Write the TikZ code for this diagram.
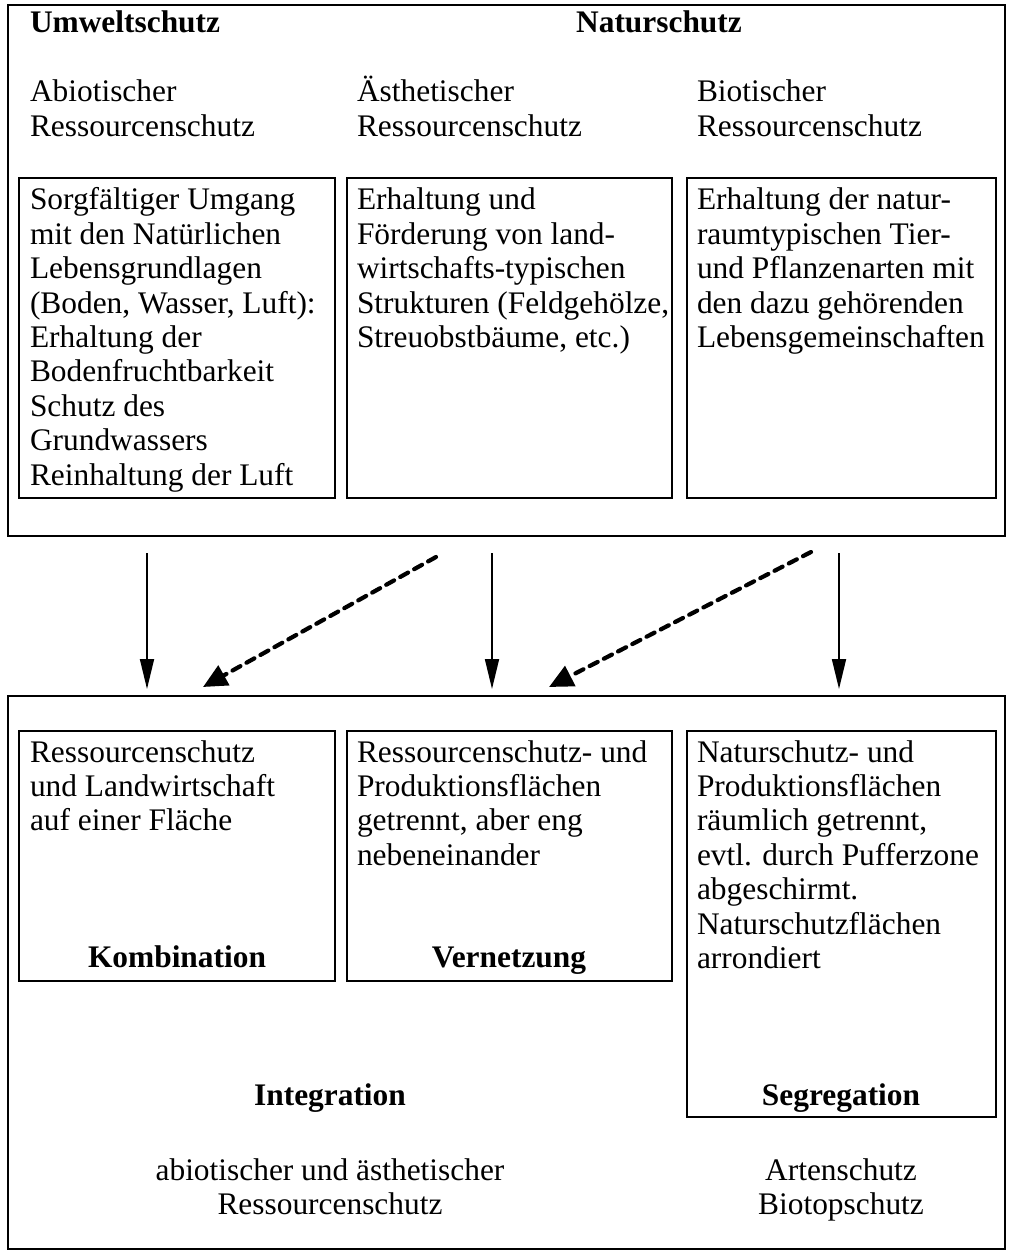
\documentclass[tikz,border=0pt]{standalone}
\usepackage{fontspec}
\setmainfont{Liberation Serif}
\usetikzlibrary{arrows.meta}
\newcommand\ml[2][l]{\begin{tabular}[t]{@{}#1@{}}#2\end{tabular}}
\begin{document}
\begin{tikzpicture}[x=1pt,y=-1pt,
  every node/.style={font=\fontsize{31.4}{34.4}\selectfont, inner sep=0pt, outer sep=0pt},
  frame/.style={draw, line width=2.9pt, rectangle, anchor=north west},
  ltxt/.style={anchor=base west},
  ctxt/.style={anchor=base},
  head/.style={anchor=base, font=\fontsize{31.4}{34.4}\selectfont\bfseries},
  varrow/.style={line width=1.8pt, -{Triangle[length=30pt,width=14pt]}},
  darrow/.style={line width=4.2pt, dash pattern=on 9pt off 7pt, line cap=round,
                 -{Triangle[length=24pt,width=22pt]}}]
\useasboundingbox (0,0) rectangle (1013,1257);

% ---------- top frame ----------
\node[frame, minimum width=997pt, minimum height=531pt] (top) at (8,5) {};
\node[head, anchor=base west] (umw) at (30,33) {Umweltschutz};
\node[head] (nat) at (659,33) {Naturschutz};
\node[ltxt] (abio) at (30,102) {\ml{Abiotischer\\Ressourcenschutz}};
\node[ltxt] (aest) at (357,102) {\ml{Ästhetischer\\Ressourcenschutz}};
\node[ltxt] (biot) at (697,102) {\ml{Biotischer\\Ressourcenschutz}};

\node[frame, minimum width=316pt, minimum height=320pt] (t1) at (19,178) {};
\node[frame, minimum width=325pt, minimum height=320pt] (t2) at (347,178) {};
\node[frame, minimum width=309pt, minimum height=320pt] (t3) at (687,178) {};

\node[ltxt] (t1txt) at (30,210) {\ml{Sorgfältiger Umgang\\mit den Natürlichen\\Lebensgrundlagen\\(Boden, Wasser, Luft):\\Erhaltung der\\Bodenfruchtbarkeit\\Schutz des\\Grundwassers\\Reinhaltung der Luft}};
\node[ltxt] (t2txt) at (357,210) {\ml{Erhaltung und\\Förderung von land-\\wirtschafts-typischen\\Strukturen (Feldgehölze,\\Streuobstbäume, etc.)}};
\node[ltxt] (t3txt) at (697,210) {\ml{Erhaltung der natur-\\raumtypischen Tier-\\und Pflanzenarten mit\\den dazu gehörenden\\Lebensgemeinschaften}};

% ---------- bottom frame ----------
\node[frame, minimum width=997pt, minimum height=553pt] (bot) at (8,696) {};

\node[frame, minimum width=316pt, minimum height=250pt] (b1) at (19,731) {};
\node[frame, minimum width=325pt, minimum height=250pt] (b2) at (347,731) {};
\node[frame, minimum width=309pt, minimum height=386pt] (b3) at (687,731) {};

\node[ltxt] (b1txt) at (30,762) {\ml{Ressourcenschutz\\und Landwirtschaft\\auf einer Fläche}};
\node[ltxt] (b2txt) at (357,762) {\ml{Ressourcenschutz- und\\Produktionsflächen\\getrennt, aber eng\\nebeneinander}};
\node[ltxt] (b3txt) at (697,762) {\ml{Naturschutz- und\\Produktionsflächen\\räumlich getrennt,\\evtl. durch Pufferzone\\abgeschirmt.\\Naturschutzflächen\\arrondiert}};

\node[head] (komb) at (177,967) {Kombination};
\node[head] (vern) at (509,967) {Vernetzung};
\node[head] (segr) at (841,1105) {Segregation};
\node[head] (integ) at (330,1105) {Integration};

\node[ctxt] (abae) at (330,1180) {\ml[c]{abiotischer und ästhetischer\\Ressourcenschutz}};
\node[ctxt] (artb) at (841,1180) {\ml[c]{Artenschutz\\Biotopschutz}};

% ---------- arrows ----------
\coordinate (v1s) at (147,553); \coordinate (v1e) at (147,689);
\coordinate (v2s) at (492,553); \coordinate (v2e) at (492,689);
\coordinate (v3s) at (839,553); \coordinate (v3e) at (839,689);
\coordinate (d1s) at (436,557); \coordinate (d1e) at (203,687);
\coordinate (d2s) at (811,552); \coordinate (d2e) at (549,687);

\draw[varrow] (v1s) -- (v1e);
\draw[varrow] (v2s) -- (v2e);
\draw[varrow] (v3s) -- (v3e);
\draw[darrow] (d1s) -- (d1e);
\draw[darrow] (d2s) -- (d2e);
\end{tikzpicture}
\end{document}
